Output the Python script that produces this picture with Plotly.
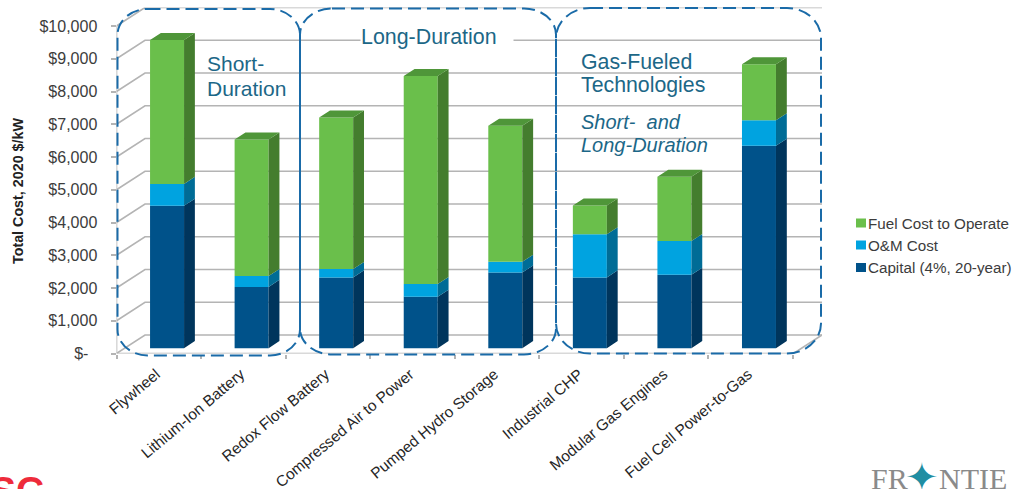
import plotly.graph_objects as go

# Cost data, $/kW
categories = ["Flywheel", "Lithium-Ion Battery", "Redox Flow Battery",
              "Compressed Air to Power", "Pumped Hydro Storage",
              "Industrial CHP", "Modular Gas Engines", "Fuel Cell Power-to-Gas"]
capital = [4350, 1870, 2160, 1570, 2310, 2160, 2240, 6180]
om_cost = [665, 330, 255, 390, 325, 1320, 1030, 775]
fuel_cost = [4390, 4170, 4630, 6350, 4155, 875, 1965, 1710]
y_ticks = list(range(0, 11000, 1000))
y_tick_labels = ["$-\u00a0\u00a0"] + [f"${v:,}" for v in y_ticks[1:]]

W, H = 1014, 489

# Axis geometry in page pixels
FLOOR_Y, TOP_Y = 353.5, 26.0
LEFT_X, FRONT_RIGHT_X, BACK_RIGHT_X = 116.5, 793.0, 822.0
WALL_DX_PX, WALL_DY_PX = 28.5, 18.5
CAT_PX = (FRONT_RIGHT_X - LEFT_X) / len(categories)
VAL_PX = (FLOOR_Y - TOP_Y) / 10000

# Depth of the oblique projection, in data units
DEPTH_X = WALL_DX_PX / CAT_PX
DEPTH_Y = WALL_DY_PX / VAL_PX
X_MIN = -0.5
X_MAX = X_MIN + (BACK_RIGHT_X - LEFT_X) / CAT_PX
BAR_FRONT, BAR_BACK = 0.29, 0.67
BAR_WIDTH = 34 / CAT_PX


def px_x(x):
    return x / W


def px_y(y):
    return 1 - y / H


GRID = "#b4b4b4"
TEXT = "#3c3c3c"
TEAL = "#1c6787"
DASH = "#1a6ba8"
SANS = "Liberation Sans, Arial, sans-serif"
SERIF = "Liberation Serif, serif"

series = [
    ("Capital (4%, 20-year)", capital, "#00528a", "#00355c"),
    ("O&M Cost", om_cost, "#00a3e0", "#006c96"),
    ("Fuel Cost to Operate", fuel_cost, "#6abf4b", "#447d2e"),
]
TOP_COLOR = "#4f9639"

fig = go.Figure()
stack = [0.0] * len(categories)
front_shift_x = BAR_FRONT * DEPTH_X
front_shift_y = BAR_FRONT * DEPTH_Y
side_dx = (BAR_BACK - BAR_FRONT) * DEPTH_X
side_dy = (BAR_BACK - BAR_FRONT) * DEPTH_Y

for name, values, face, side in series:
    bases = [s + front_shift_y for s in stack]
    fig.add_trace(go.Bar(
        name=name,
        x=[i + front_shift_x for i in range(len(categories))],
        y=values,
        base=bases,
        width=BAR_WIDTH,
        marker=dict(color=face, line=dict(width=0)),
        customdata=categories,
        showlegend=False,
        hovertemplate="%{customdata}<br>" + name + ": $%{y:,}<extra></extra>",
    ))
    # Right-hand side faces of this stack segment
    sx, sy = [], []
    for i, (b, v) in enumerate(zip(bases, values)):
        xr = i + front_shift_x + BAR_WIDTH / 2
        sx += [xr, xr + side_dx, xr + side_dx, xr, xr, None]
        sy += [b, b + side_dy, b + v + side_dy, b + v, b, None]
    fig.add_trace(go.Scatter(x=sx, y=sy, mode="lines", fill="toself", fillcolor=side,
                             line=dict(width=0), hoverinfo="skip", showlegend=False))
    stack = [s + v for s, v in zip(stack, values)]

# Top faces of the finished stacks
tx, ty = [], []
for i, total in enumerate(stack):
    t = total + front_shift_y
    xl = i + front_shift_x - BAR_WIDTH / 2
    xr = i + front_shift_x + BAR_WIDTH / 2
    tx += [xl, xr, xr + side_dx, xl + side_dx, xl, None]
    ty += [t, t, t + side_dy, t + side_dy, t, None]
fig.add_trace(go.Scatter(x=tx, y=ty, mode="lines", fill="toself", fillcolor=TOP_COLOR,
                         line=dict(width=0), hoverinfo="skip", showlegend=False))

shapes = []


def wall_line(path):
    shapes.append(dict(type="path", path=path, xref="x", yref="y", layer="below",
                       line=dict(color=GRID, width=1.6)))


# Gridlines run from the front of the side wall to the back, then along the back wall
for v in y_ticks:
    wall_line(f"M {X_MIN},{v} L {X_MIN + DEPTH_X},{v + DEPTH_Y} L {X_MAX},{v + DEPTH_Y}")
# Chart floor and front edge of the wall
x_front_end = X_MAX - DEPTH_X
wall_line(f"M {X_MIN},0 L {x_front_end},0 L {X_MAX},{DEPTH_Y}")
wall_line(f"M {X_MIN},0 L {X_MIN},10000")


def rounded_box(x0, y0, x1, y1, rx, ry):
    k = 0.45
    pts = [
        f"M {px_x(x0 + rx)},{px_y(y0)}",
        f"L {px_x(x1 - rx)},{px_y(y0)}",
        f"C {px_x(x1 - rx * k)},{px_y(y0)} {px_x(x1)},{px_y(y0 + ry * k)} {px_x(x1)},{px_y(y0 + ry)}",
        f"L {px_x(x1)},{px_y(y1 - ry)}",
        f"C {px_x(x1)},{px_y(y1 - ry * k)} {px_x(x1 - rx * k)},{px_y(y1)} {px_x(x1 - rx)},{px_y(y1)}",
        f"L {px_x(x0 + rx)},{px_y(y1)}",
        f"C {px_x(x0 + rx * k)},{px_y(y1)} {px_x(x0)},{px_y(y1 - ry * k)} {px_x(x0)},{px_y(y1 - ry)}",
        f"L {px_x(x0)},{px_y(y0 + ry)}",
        f"C {px_x(x0)},{px_y(y0 + ry * k)} {px_x(x0 + rx * k)},{px_y(y0)} {px_x(x0 + rx)},{px_y(y0)}",
        "Z",
    ]
    return dict(type="path", path=" ".join(pts), xref="paper", yref="paper", layer="above",
                line=dict(color=DASH, width=2, dash="13px,6px"))


# Technology groupings
shapes += [
    rounded_box(117.5, 9, 300, 355.5, 30, 26),
    rounded_box(300, 8.5, 556, 354.5, 32, 26),
    rounded_box(556, 8, 821, 353.5, 34, 30),
]


def note(text, x, y, size=21, italic=False, anchor="left", **kw):
    shown = f"<i>{text}</i>" if italic else text
    return dict(text=shown, x=px_x(x), y=px_y(y), xref="paper", yref="paper",
                xanchor=anchor, yanchor="middle", showarrow=False, align="left",
                font=dict(family=kw.pop("family", SANS), size=size, color=kw.pop("color", TEAL)), **kw)


annotations = [
    note("Short-", 205, 64),
    note("Duration", 205, 88),
    note("Long-Duration", 359.5, 37, size=21.4, bgcolor="#ffffff", width=152, borderpad=0),
    note("Gas-Fueled", 579, 62, size=21.3),
    note("Technologies", 579, 85, size=21.3),
    note("Short-\u00a0 and", 579, 122, size=20, italic=True),
    note("Long-Duration", 579, 145, size=20, italic=True),
    dict(text="<b>Total Cost, 2020 $/kW</b>", x=px_x(18), y=px_y(191), xref="paper", yref="paper",
         textangle=-90, showarrow=False, xanchor="center", yanchor="middle",
         font=dict(family=SANS, size=14.3, color="#222222")),
    note("<b>SC</b>", 46, 491, size=39, anchor="right", color="#ee2b3b"),
    note("FR", 869, 478, size=30, color="#8a8a8a", family=SERIF),
    note("\u2726", 922, 477, size=40, anchor="center", color="#1f8ea3", family="DejaVu Sans, sans-serif"),
    note("NTIE", 937, 478, size=30, color="#8a8a8a", family=SERIF),
]

# Colour key, top row first
KEY_ROWS = [223, 245, 267.5]
for (name, _, face, _), row in zip(reversed(series), KEY_ROWS):
    shapes.append(dict(type="rect", xref="paper", yref="paper",
                       x0=px_x(856), x1=px_x(866), y0=px_y(row + 4.5), y1=px_y(row - 4.5),
                       fillcolor=face, line=dict(width=0), layer="above"))
    annotations.append(note(name.replace("&", "&amp;"), 866, row, size=15.2, color=TEXT))

fig.update_layout(
    width=W, height=H,
    margin=dict(l=0, r=0, t=0, b=0, autoexpand=False),
    paper_bgcolor="white", plot_bgcolor="white",
    barmode="overlay",
    showlegend=False,
    shapes=shapes,
    annotations=annotations,
    hovermode="closest",
    xaxis=dict(
        domain=[px_x(LEFT_X), px_x(BACK_RIGHT_X)],
        range=[X_MIN, X_MAX],
        tickmode="array",
        tickvals=[i - 0.03 for i in range(len(categories))],
        ticktext=categories,
        tickangle=-40,
        ticks="",
        ticklabelstandoff=8,
        showgrid=False, zeroline=False, showline=False,
        tickfont=dict(family=SANS, size=15.4, color="#262626"),
        minor=dict(tickmode="array",
                   tickvals=[i - 0.5 for i in range(len(categories) + 1)],
                   ticks="outside", ticklen=4, tickcolor=GRID, tickwidth=1.5, showgrid=False),
    ),
    yaxis=dict(
        domain=[px_y(FLOOR_Y), px_y(TOP_Y - WALL_DY_PX)],
        range=[0, 10000 + DEPTH_Y],
        tickmode="array",
        tickvals=y_ticks,
        ticktext=y_tick_labels,
        ticks="outside", ticklen=5, tickcolor=GRID, tickwidth=1.5,
        ticklabelstandoff=10,
        showgrid=False, zeroline=False, showline=False,
        tickfont=dict(family=SANS, size=16, color=TEXT),
    ),
)

fig.write_html("out.html")
